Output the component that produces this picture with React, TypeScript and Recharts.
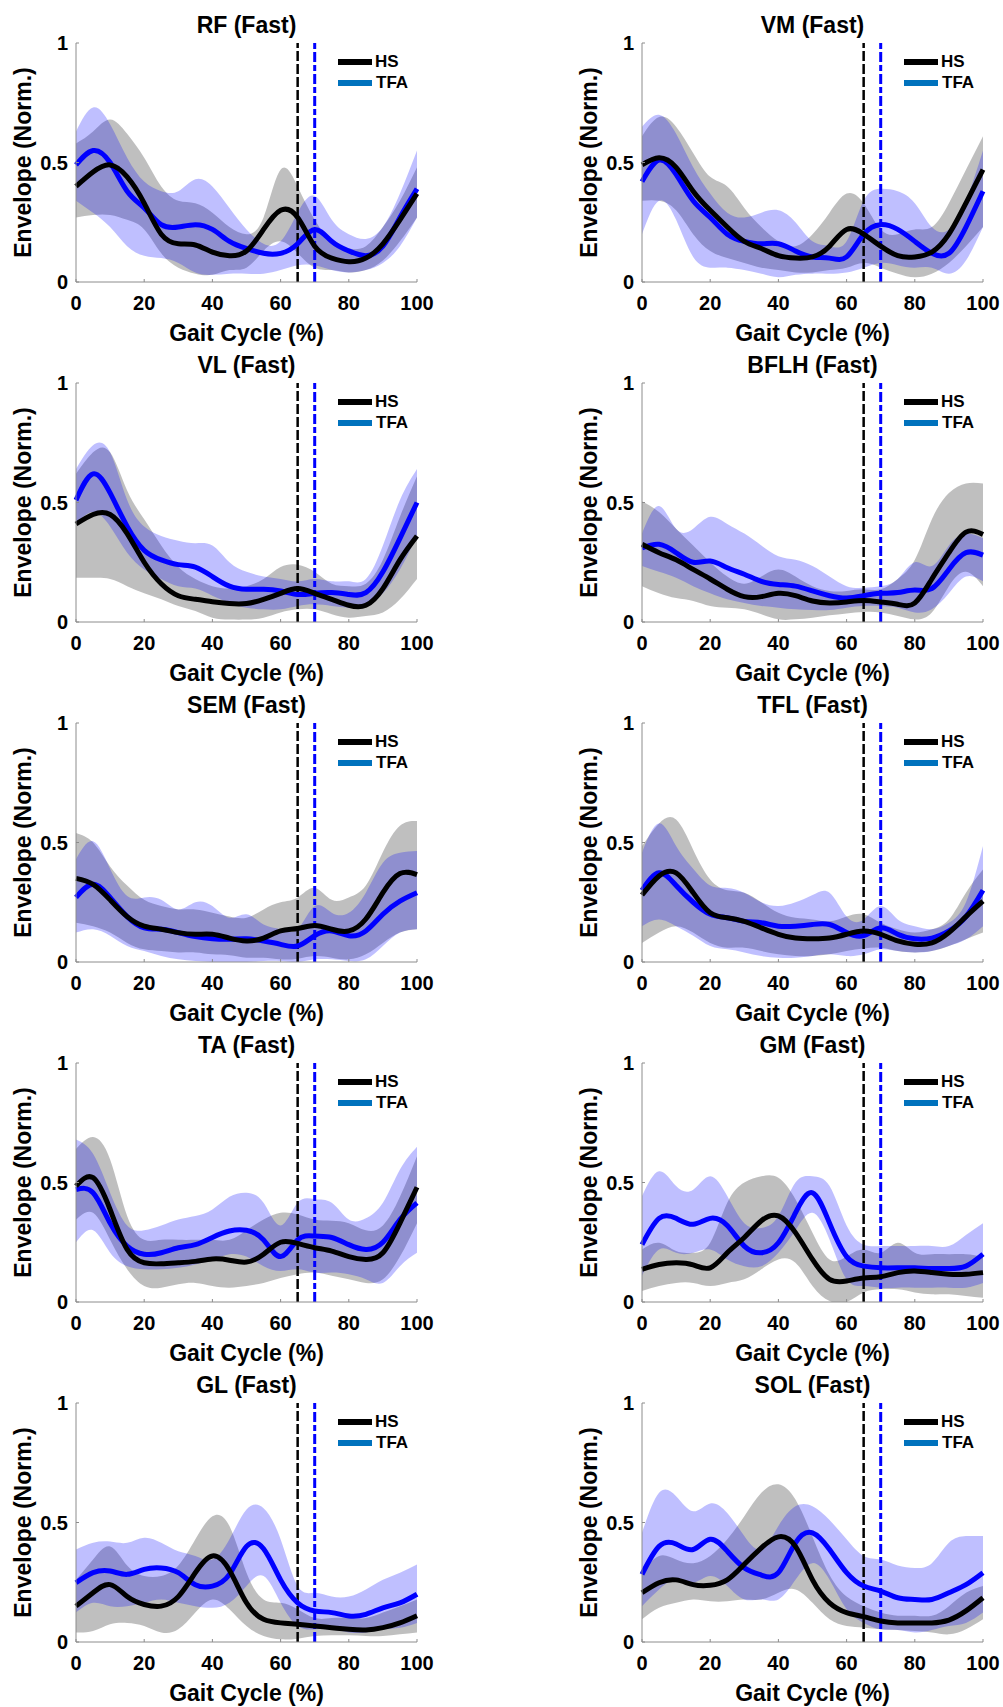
import React from 'react';
import { ComposedChart, Area, Line, XAxis, YAxis, ReferenceLine } from 'recharts';

// Gait cycle sample points (%)
const GAIT = [0, 5, 10, 15, 20, 25, 30, 35, 40, 45, 50, 55, 60, 65, 70, 75, 80, 85, 90, 95, 100];
const X_TICKS = [0, 20, 40, 60, 80, 100];
const X_INNER_TICKS = [20, 40, 60, 80];
const Y_TICKS = [0, 0.5, 1];
const HS_TOE_OFF = 65;
const TFA_TOE_OFF = 70;

// RF
const RF_HS_M = [0.40, 0.46, 0.49, 0.44, 0.33, 0.20, 0.16, 0.155, 0.125, 0.11, 0.13, 0.22, 0.30, 0.27, 0.15, 0.10, 0.085, 0.10, 0.16, 0.26, 0.37];
const RF_HS_LO = [0.27, 0.28, 0.28, 0.26, 0.22, 0.12, 0.06, 0.035, 0.03, 0.05, 0.06, 0.13, 0.17, 0.12, 0.06, 0.05, 0.04, 0.05, 0.09, 0.17, 0.27];
const RF_HS_HI = [0.58, 0.63, 0.68, 0.62, 0.52, 0.40, 0.34, 0.33, 0.29, 0.23, 0.20, 0.27, 0.47, 0.40, 0.26, 0.17, 0.14, 0.15, 0.23, 0.34, 0.48];
const RF_TFA_M = [0.49, 0.55, 0.50, 0.38, 0.31, 0.24, 0.23, 0.24, 0.22, 0.17, 0.14, 0.12, 0.12, 0.16, 0.22, 0.17, 0.13, 0.11, 0.15, 0.27, 0.39];
const RF_TFA_LO = [0.34, 0.29, 0.23, 0.15, 0.11, 0.10, 0.08, 0.04, 0.03, 0.035, 0.035, 0.035, 0.05, 0.07, 0.07, 0.05, 0.04, 0.05, 0.08, 0.15, 0.27];
const RF_TFA_HI = [0.63, 0.73, 0.66, 0.52, 0.42, 0.38, 0.38, 0.43, 0.40, 0.31, 0.22, 0.16, 0.17, 0.29, 0.36, 0.26, 0.20, 0.18, 0.23, 0.37, 0.55];

// VM
const VM_HS_M = [0.49, 0.52, 0.48, 0.38, 0.30, 0.23, 0.17, 0.14, 0.11, 0.10, 0.105, 0.15, 0.22, 0.20, 0.15, 0.11, 0.105, 0.125, 0.20, 0.33, 0.47];
const VM_HS_LO = [0.34, 0.34, 0.30, 0.20, 0.13, 0.10, 0.08, 0.06, 0.05, 0.04, 0.04, 0.05, 0.06, 0.08, 0.06, 0.035, 0.02, 0.035, 0.08, 0.15, 0.23];
const VM_HS_HI = [0.61, 0.69, 0.65, 0.54, 0.44, 0.40, 0.31, 0.23, 0.17, 0.15, 0.20, 0.29, 0.37, 0.33, 0.22, 0.20, 0.22, 0.23, 0.33, 0.47, 0.61];
const VM_TFA_M = [0.42, 0.51, 0.45, 0.34, 0.27, 0.20, 0.17, 0.16, 0.16, 0.13, 0.105, 0.10, 0.105, 0.20, 0.24, 0.22, 0.17, 0.12, 0.12, 0.23, 0.38];
const VM_TFA_LO = [0.20, 0.34, 0.26, 0.105, 0.06, 0.06, 0.05, 0.035, 0.02, 0.03, 0.035, 0.035, 0.04, 0.06, 0.08, 0.07, 0.06, 0.06, 0.035, 0.09, 0.23];
const VM_TFA_HI = [0.65, 0.70, 0.62, 0.48, 0.37, 0.29, 0.27, 0.29, 0.30, 0.25, 0.17, 0.15, 0.17, 0.34, 0.39, 0.38, 0.33, 0.23, 0.22, 0.34, 0.55];

// VL
const VL_HS_M = [0.41, 0.45, 0.45, 0.37, 0.25, 0.16, 0.11, 0.095, 0.085, 0.077, 0.077, 0.095, 0.12, 0.14, 0.12, 0.095, 0.07, 0.07, 0.14, 0.26, 0.36];
const VL_HS_LO = [0.185, 0.185, 0.18, 0.15, 0.12, 0.095, 0.067, 0.046, 0.018, 0.01, 0.01, 0.018, 0.04, 0.053, 0.053, 0.032, 0.018, 0.025, 0.04, 0.095, 0.18];
const VL_HS_HI = [0.62, 0.71, 0.71, 0.55, 0.43, 0.32, 0.23, 0.18, 0.15, 0.14, 0.15, 0.18, 0.23, 0.24, 0.21, 0.16, 0.15, 0.16, 0.26, 0.44, 0.61];
const VL_TFA_M = [0.51, 0.62, 0.54, 0.40, 0.30, 0.26, 0.24, 0.23, 0.19, 0.15, 0.137, 0.137, 0.13, 0.115, 0.12, 0.123, 0.115, 0.123, 0.21, 0.35, 0.50];
const VL_TFA_LO = [0.41, 0.46, 0.40, 0.29, 0.22, 0.18, 0.15, 0.14, 0.11, 0.08, 0.06, 0.053, 0.053, 0.067, 0.074, 0.067, 0.06, 0.067, 0.12, 0.22, 0.36];
const VL_TFA_HI = [0.64, 0.74, 0.71, 0.51, 0.40, 0.36, 0.34, 0.33, 0.32, 0.25, 0.21, 0.19, 0.18, 0.17, 0.18, 0.17, 0.17, 0.18, 0.32, 0.51, 0.64];

// BFLH
const BFLH_HS_M = [0.325, 0.29, 0.26, 0.22, 0.18, 0.137, 0.106, 0.106, 0.12, 0.11, 0.088, 0.08, 0.084, 0.09, 0.084, 0.074, 0.08, 0.18, 0.29, 0.376, 0.366];
const BFLH_HS_LO = [0.15, 0.12, 0.10, 0.088, 0.067, 0.06, 0.053, 0.032, 0.011, 0.011, 0.018, 0.028, 0.036, 0.042, 0.04, 0.025, 0.011, 0.04, 0.15, 0.21, 0.15];
const BFLH_HS_HI = [0.505, 0.46, 0.39, 0.32, 0.25, 0.19, 0.16, 0.19, 0.22, 0.19, 0.15, 0.13, 0.13, 0.137, 0.137, 0.18, 0.26, 0.43, 0.54, 0.58, 0.58];
const BFLH_TFA_M = [0.31, 0.325, 0.29, 0.25, 0.255, 0.227, 0.20, 0.17, 0.157, 0.15, 0.13, 0.11, 0.10, 0.11, 0.12, 0.123, 0.134, 0.14, 0.22, 0.29, 0.28];
const BFLH_TFA_LO = [0.234, 0.21, 0.185, 0.15, 0.12, 0.095, 0.08, 0.067, 0.06, 0.053, 0.05, 0.05, 0.06, 0.067, 0.067, 0.06, 0.04, 0.053, 0.12, 0.19, 0.17];
const BFLH_TFA_HI = [0.37, 0.485, 0.39, 0.39, 0.44, 0.41, 0.37, 0.32, 0.275, 0.26, 0.234, 0.19, 0.15, 0.143, 0.15, 0.18, 0.25, 0.234, 0.32, 0.37, 0.35];

// SEM
const SEM_HS_M = [0.35, 0.325, 0.26, 0.19, 0.15, 0.137, 0.123, 0.116, 0.116, 0.10, 0.088, 0.10, 0.13, 0.14, 0.153, 0.137, 0.13, 0.18, 0.29, 0.37, 0.366];
const SEM_HS_LO = [0.164, 0.15, 0.123, 0.08, 0.053, 0.046, 0.04, 0.04, 0.032, 0.028, 0.018, 0.018, 0.011, 0.014, 0.025, 0.018, 0.011, 0.032, 0.08, 0.123, 0.137];
const SEM_HS_HI = [0.54, 0.50, 0.40, 0.32, 0.26, 0.234, 0.22, 0.22, 0.206, 0.19, 0.185, 0.22, 0.25, 0.27, 0.31, 0.26, 0.27, 0.32, 0.46, 0.57, 0.59];
const SEM_TFA_M = [0.27, 0.325, 0.27, 0.19, 0.143, 0.137, 0.123, 0.106, 0.097, 0.095, 0.097, 0.088, 0.074, 0.067, 0.11, 0.13, 0.11, 0.13, 0.20, 0.255, 0.29];
const SEM_TFA_LO = [0.123, 0.137, 0.11, 0.067, 0.046, 0.025, 0.011, 0.004, 0, 0, 0, 0.004, 0.004, 0, 0.011, 0.011, 0.004, 0.011, 0.067, 0.123, 0.137];
const SEM_TFA_HI = [0.43, 0.505, 0.39, 0.276, 0.27, 0.26, 0.22, 0.25, 0.234, 0.185, 0.20, 0.157, 0.137, 0.137, 0.234, 0.206, 0.206, 0.29, 0.415, 0.457, 0.464];

// TFL
const TFL_HS_M = [0.28, 0.36, 0.373, 0.29, 0.206, 0.185, 0.17, 0.143, 0.116, 0.10, 0.097, 0.10, 0.116, 0.13, 0.116, 0.088, 0.074, 0.08, 0.123, 0.19, 0.255];
const TFL_HS_LO = [0.08, 0.123, 0.15, 0.123, 0.08, 0.06, 0.06, 0.046, 0.032, 0.025, 0.025, 0.032, 0.046, 0.056, 0.06, 0.046, 0.04, 0.046, 0.067, 0.095, 0.123];
const TFL_HS_HI = [0.485, 0.58, 0.596, 0.47, 0.345, 0.30, 0.29, 0.25, 0.206, 0.185, 0.178, 0.17, 0.19, 0.20, 0.164, 0.137, 0.123, 0.137, 0.178, 0.29, 0.387];
const TFL_TFA_M = [0.30, 0.373, 0.32, 0.25, 0.20, 0.185, 0.17, 0.164, 0.15, 0.15, 0.157, 0.157, 0.123, 0.11, 0.143, 0.116, 0.097, 0.10, 0.13, 0.19, 0.30];
const TFL_TFA_LO = [0.15, 0.178, 0.15, 0.11, 0.067, 0.053, 0.04, 0.025, 0.018, 0.018, 0.025, 0.032, 0.025, 0.032, 0.053, 0.046, 0.04, 0.046, 0.067, 0.095, 0.15];
const TFL_TFA_HI = [0.457, 0.58, 0.485, 0.39, 0.32, 0.31, 0.29, 0.25, 0.234, 0.25, 0.28, 0.29, 0.19, 0.178, 0.234, 0.178, 0.15, 0.137, 0.164, 0.25, 0.485];

// TA
const TA_HS_M = [0.485, 0.52, 0.387, 0.22, 0.164, 0.16, 0.164, 0.17, 0.18, 0.175, 0.167, 0.20, 0.25, 0.245, 0.227, 0.213, 0.19, 0.178, 0.206, 0.33, 0.48];
const TA_HS_LO = [0.345, 0.373, 0.26, 0.137, 0.067, 0.06, 0.074, 0.08, 0.067, 0.06, 0.067, 0.08, 0.10, 0.116, 0.123, 0.11, 0.095, 0.08, 0.095, 0.19, 0.33];
const TA_HS_HI = [0.64, 0.69, 0.596, 0.36, 0.26, 0.26, 0.26, 0.26, 0.26, 0.26, 0.30, 0.345, 0.373, 0.366, 0.345, 0.34, 0.33, 0.30, 0.32, 0.44, 0.61];
const TA_TFA_M = [0.47, 0.457, 0.33, 0.234, 0.20, 0.206, 0.227, 0.24, 0.27, 0.297, 0.30, 0.26, 0.19, 0.26, 0.276, 0.27, 0.24, 0.22, 0.25, 0.345, 0.415];
const TA_TFA_LO = [0.25, 0.30, 0.206, 0.15, 0.137, 0.137, 0.143, 0.157, 0.178, 0.20, 0.19, 0.15, 0.13, 0.137, 0.123, 0.123, 0.116, 0.095, 0.08, 0.15, 0.206];
const TA_TFA_HI = [0.68, 0.62, 0.457, 0.32, 0.30, 0.32, 0.345, 0.36, 0.387, 0.44, 0.457, 0.415, 0.32, 0.415, 0.43, 0.415, 0.345, 0.35, 0.415, 0.554, 0.65];

// GM
const GM_HS_M = [0.137, 0.157, 0.164, 0.155, 0.143, 0.206, 0.27, 0.34, 0.36, 0.29, 0.178, 0.095, 0.088, 0.10, 0.106, 0.123, 0.13, 0.123, 0.116, 0.116, 0.123];
const GM_HS_LO = [0.046, 0.067, 0.08, 0.08, 0.067, 0.08, 0.095, 0.137, 0.178, 0.164, 0.067, 0.004, 0, 0.04, 0.053, 0.053, 0.04, 0.032, 0.032, 0.025, 0.018];
const GM_HS_HI = [0.22, 0.248, 0.213, 0.206, 0.248, 0.415, 0.50, 0.526, 0.52, 0.43, 0.29, 0.178, 0.19, 0.22, 0.206, 0.248, 0.206, 0.20, 0.20, 0.20, 0.19];
const GM_TFA_M = [0.24, 0.35, 0.35, 0.325, 0.35, 0.32, 0.234, 0.206, 0.248, 0.373, 0.457, 0.33, 0.19, 0.15, 0.143, 0.143, 0.143, 0.14, 0.14, 0.15, 0.20];
const GM_TFA_LO = [0.11, 0.22, 0.206, 0.206, 0.22, 0.178, 0.15, 0.15, 0.206, 0.30, 0.373, 0.26, 0.095, 0.067, 0.06, 0.06, 0.06, 0.06, 0.06, 0.06, 0.08];
const GM_TFA_HI = [0.443, 0.547, 0.485, 0.47, 0.526, 0.443, 0.33, 0.31, 0.36, 0.50, 0.526, 0.485, 0.32, 0.24, 0.234, 0.234, 0.234, 0.234, 0.234, 0.28, 0.33];

// GL
const GL_HS_M = [0.15, 0.206, 0.24, 0.19, 0.157, 0.15, 0.19, 0.29, 0.36, 0.30, 0.164, 0.095, 0.08, 0.074, 0.067, 0.06, 0.053, 0.05, 0.06, 0.08, 0.11];
const GL_HS_LO = [0.04, 0.046, 0.074, 0.08, 0.067, 0.04, 0.053, 0.123, 0.178, 0.137, 0.067, 0.025, 0.011, 0.014, 0.025, 0.028, 0.028, 0.025, 0.025, 0.032, 0.04];
const GL_HS_HI = [0.26, 0.345, 0.40, 0.32, 0.276, 0.276, 0.32, 0.43, 0.526, 0.485, 0.29, 0.178, 0.164, 0.137, 0.10, 0.10, 0.10, 0.10, 0.123, 0.15, 0.178];
const GL_TFA_M = [0.248, 0.29, 0.297, 0.283, 0.304, 0.31, 0.29, 0.24, 0.234, 0.283, 0.40, 0.39, 0.26, 0.164, 0.13, 0.123, 0.109, 0.116, 0.143, 0.164, 0.20];
const GL_TFA_LO = [0.123, 0.164, 0.15, 0.15, 0.164, 0.178, 0.164, 0.15, 0.143, 0.164, 0.234, 0.276, 0.164, 0.067, 0.053, 0.053, 0.04, 0.04, 0.053, 0.06, 0.08];
const GL_TFA_HI = [0.387, 0.415, 0.42, 0.415, 0.436, 0.415, 0.38, 0.36, 0.345, 0.43, 0.554, 0.56, 0.43, 0.234, 0.206, 0.19, 0.19, 0.22, 0.26, 0.29, 0.324];

// SOL
const SOL_HS_M = [0.206, 0.248, 0.26, 0.24, 0.237, 0.26, 0.325, 0.394, 0.44, 0.40, 0.26, 0.164, 0.123, 0.106, 0.088, 0.08, 0.08, 0.08, 0.092, 0.13, 0.185];
const SOL_HS_LO = [0.095, 0.143, 0.164, 0.178, 0.17, 0.17, 0.178, 0.178, 0.206, 0.22, 0.164, 0.095, 0.067, 0.06, 0.053, 0.05, 0.046, 0.04, 0.032, 0.053, 0.095];
const SOL_HS_HI = [0.29, 0.36, 0.345, 0.33, 0.36, 0.43, 0.526, 0.624, 0.66, 0.596, 0.44, 0.28, 0.19, 0.15, 0.123, 0.11, 0.11, 0.11, 0.15, 0.206, 0.234];
const SOL_TFA_M = [0.283, 0.40, 0.41, 0.387, 0.43, 0.38, 0.31, 0.28, 0.29, 0.415, 0.457, 0.387, 0.29, 0.234, 0.213, 0.185, 0.178, 0.178, 0.206, 0.24, 0.29];
const SOL_TFA_LO = [0.15, 0.22, 0.26, 0.248, 0.276, 0.234, 0.178, 0.178, 0.178, 0.26, 0.33, 0.26, 0.137, 0.08, 0.053, 0.05, 0.04, 0.05, 0.067, 0.08, 0.123];
const SOL_TFA_HI = [0.457, 0.624, 0.61, 0.547, 0.58, 0.54, 0.443, 0.387, 0.485, 0.568, 0.568, 0.51, 0.43, 0.36, 0.345, 0.32, 0.31, 0.33, 0.415, 0.443, 0.443];

const PANELS = [
  { title: 'RF (Fast)', hs: [RF_HS_M, RF_HS_LO, RF_HS_HI], tfa: [RF_TFA_M, RF_TFA_LO, RF_TFA_HI] },
  { title: 'VM (Fast)', hs: [VM_HS_M, VM_HS_LO, VM_HS_HI], tfa: [VM_TFA_M, VM_TFA_LO, VM_TFA_HI] },
  { title: 'VL (Fast)', hs: [VL_HS_M, VL_HS_LO, VL_HS_HI], tfa: [VL_TFA_M, VL_TFA_LO, VL_TFA_HI] },
  { title: 'BFLH (Fast)', hs: [BFLH_HS_M, BFLH_HS_LO, BFLH_HS_HI], tfa: [BFLH_TFA_M, BFLH_TFA_LO, BFLH_TFA_HI] },
  { title: 'SEM (Fast)', hs: [SEM_HS_M, SEM_HS_LO, SEM_HS_HI], tfa: [SEM_TFA_M, SEM_TFA_LO, SEM_TFA_HI] },
  { title: 'TFL (Fast)', hs: [TFL_HS_M, TFL_HS_LO, TFL_HS_HI], tfa: [TFL_TFA_M, TFL_TFA_LO, TFL_TFA_HI] },
  { title: 'TA (Fast)', hs: [TA_HS_M, TA_HS_LO, TA_HS_HI], tfa: [TA_TFA_M, TA_TFA_LO, TA_TFA_HI] },
  { title: 'GM (Fast)', hs: [GM_HS_M, GM_HS_LO, GM_HS_HI], tfa: [GM_TFA_M, GM_TFA_LO, GM_TFA_HI] },
  { title: 'GL (Fast)', hs: [GL_HS_M, GL_HS_LO, GL_HS_HI], tfa: [GL_TFA_M, GL_TFA_LO, GL_TFA_HI] },
  { title: 'SOL (Fast)', hs: [SOL_HS_M, SOL_HS_LO, SOL_HS_HI], tfa: [SOL_TFA_M, SOL_TFA_LO, SOL_TFA_HI] },
];

const FONT = '"Liberation Sans", Arial, Helvetica, sans-serif';
const BOX = '#8c8c8c';
const HS_COLOR = '#000000';
const TFA_COLOR = '#0000ff';
const TFA_LEGEND = '#0072BD';
const CURVE = 'natural';

const PANEL_W = 437;
const PANEL_H = 340;
const COL_X = [0, 566];

const fmtY = (v: number) => (v === 0.5 ? '0.5' : String(v));

const BottomTick = (p: any) => (
  <g>
    <line x1={p.x} y1={p.y} x2={p.x} y2={p.y - 3} stroke={BOX} strokeWidth={1} />
    <text x={p.x} y={p.y + 28} textAnchor="middle" fontFamily={FONT} fontWeight="bold" fontSize={20} fill="#000">
      {p.payload.value}
    </text>
  </g>
);
const LeftTick = (p: any) => (
  <g>
    <line x1={p.x} y1={p.y} x2={p.x + 3} y2={p.y} stroke={BOX} strokeWidth={1} />
    <text x={p.x - 8} y={p.y} dy={7} textAnchor="end" fontFamily={FONT} fontWeight="bold" fontSize={20} fill="#000">
      {fmtY(p.payload.value)}
    </text>
  </g>
);
const TopTick = (p: any) => (
  <line x1={p.x} y1={p.y} x2={p.x} y2={p.y + 3} stroke={BOX} strokeWidth={1} />
);
const RightTick = (p: any) => (
  <line x1={p.x} y1={p.y} x2={p.x - 3} y2={p.y} stroke={BOX} strokeWidth={1} />
);

const textBase: React.CSSProperties = {
  position: 'absolute',
  fontFamily: FONT,
  fontWeight: 'bold',
  color: '#000',
  whiteSpace: 'nowrap',
};

function Panel({ panel, left, top }: { panel: any; left: number; top: number }) {
  const [hsM, hsLo, hsHi] = panel.hs;
  const [tfM, tfLo, tfHi] = panel.tfa;
  const data = GAIT.map((g, i) => ({
    g,
    hsM: hsM[i],
    hsB: [hsLo[i], hsHi[i]],
    tfM: tfM[i],
    tfB: [tfLo[i], tfHi[i]],
  }));
  return (
    <div style={{ position: 'absolute', left, top, width: PANEL_W, height: PANEL_H }}>
      <ComposedChart
        width={PANEL_W}
        height={PANEL_H}
        data={data}
        margin={{ top: 43, right: 20, bottom: 28, left: 36 }}
      >
        <XAxis
          dataKey="g"
          type="number"
          domain={[0, 100]}
          ticks={X_TICKS}
          interval={0}
          height={30}
          tickSize={0}
          tickMargin={0}
          tickLine={false}
          axisLine={{ stroke: BOX, strokeWidth: 1 }}
          tick={(p: any) => <BottomTick {...p} />}
        />
        <XAxis
          xAxisId="top"
          orientation="top"
          dataKey="g"
          type="number"
          domain={[0, 100]}
          ticks={X_INNER_TICKS}
          interval={0}
          height={0}
          tickSize={0}
          tickMargin={0}
          tickLine={false}
          axisLine={{ stroke: BOX, strokeWidth: 1 }}
          tick={(p: any) => <TopTick {...p} />}
        />
        <YAxis
          type="number"
          domain={[0, 1]}
          allowDataOverflow
          ticks={Y_TICKS}
          interval={0}
          width={40}
          tickSize={0}
          tickMargin={0}
          tickLine={false}
          axisLine={{ stroke: BOX, strokeWidth: 1 }}
          tick={(p: any) => <LeftTick {...p} />}
        />
        <YAxis
          yAxisId="right"
          orientation="right"
          type="number"
          domain={[0, 1]}
          ticks={[0.5]}
          interval={0}
          width={0}
          tickSize={0}
          tickMargin={0}
          tickLine={false}
          axisLine={{ stroke: BOX, strokeWidth: 1 }}
          tick={(p: any) => <RightTick {...p} />}
        />
        <Area
          dataKey="hsB"
          type={CURVE}
          fill="#000000"
          fillOpacity={0.25}
          stroke="none"
          isAnimationActive={false}
          activeDot={false}
        />
        <Area
          dataKey="tfB"
          type={CURVE}
          fill="#0000ff"
          fillOpacity={0.25}
          stroke="none"
          isAnimationActive={false}
          activeDot={false}
        />
        <ReferenceLine x={HS_TOE_OFF} stroke="#000" strokeWidth={2.5} strokeDasharray="10 3" />
        <ReferenceLine x={TFA_TOE_OFF} stroke="#0000ff" strokeWidth={3} strokeDasharray="10 3 6 3" />
        <Line
          dataKey="tfM"
          type={CURVE}
          stroke={TFA_COLOR}
          strokeWidth={5}
          dot={false}
          activeDot={false}
          isAnimationActive={false}
        />
        <Line
          dataKey="hsM"
          type={CURVE}
          stroke={HS_COLOR}
          strokeWidth={5}
          dot={false}
          activeDot={false}
          isAnimationActive={false}
        />
      </ComposedChart>

      <div style={{ ...textBase, left: 76, width: 341, top: 14, fontSize: 23, lineHeight: '23px', textAlign: 'center' }}>
        {panel.title}
      </div>
      <div style={{ ...textBase, left: 76, width: 341, top: 322, fontSize: 23, lineHeight: '23px', textAlign: 'center' }}>
        Gait Cycle (%)
      </div>
      <div
        style={{
          ...textBase,
          left: 23 - 150,
          top: 162.5 - 11.5,
          width: 300,
          height: 23,
          fontSize: 23,
          lineHeight: '23px',
          textAlign: 'center',
          transform: 'rotate(-90deg)',
        }}
      >
        Envelope (Norm.)
      </div>

      <div style={{ position: 'absolute', left: 338, top: 59, width: 34, height: 6, background: HS_COLOR }} />
      <div style={{ ...textBase, left: 375, top: 54, fontSize: 17, lineHeight: '16px' }}>HS</div>
      <div style={{ position: 'absolute', left: 338, top: 80, width: 34, height: 6, background: TFA_LEGEND }} />
      <div style={{ ...textBase, left: 376, top: 75, fontSize: 17, lineHeight: '16px' }}>TFA</div>
    </div>
  );
}

export default function App() {
  return (
    <div style={{ position: 'absolute', left: 0, top: 0, width: 1003, height: 1707, background: '#fff', overflow: 'hidden' }}>
      {PANELS.map((p, i) => (
        <Panel key={p.title} panel={p} left={COL_X[i % 2]} top={Math.floor(i / 2) * 340} />
      ))}
    </div>
  );
}
